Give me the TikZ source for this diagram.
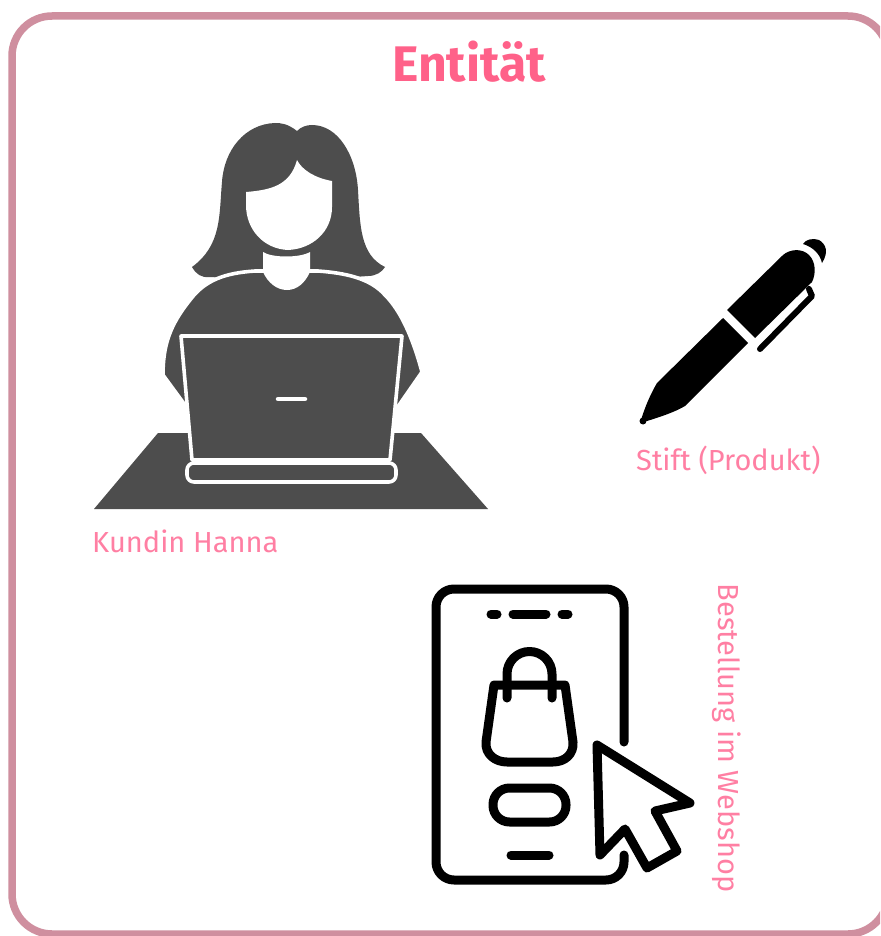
\documentclass[tikz,border=0pt]{standalone}
\usepackage{fontspec}
\setmainfont{Fira Sans}
\definecolor{framecol}{HTML}{CF8F9F}
\definecolor{pinktxt}{HTML}{FF7FA3}
\definecolor{titlecol}{HTML}{FF6189}
\definecolor{figgrey}{HTML}{4D4D4D}
\tikzset{
  labeltxt/.style={text=pinktxt,font=\fontsize{29}{34}\selectfont,inner sep=0pt},
  greyfill/.style={fill=figgrey,draw=none},
  whiteedge/.style={draw=white,line width=3.6pt,line join=round},
  icon/.style={draw=black,line width=9pt,line cap=round,line join=round},
  iconfill/.style={fill=black,draw=none}
}
\begin{document}
\begin{tikzpicture}[x=1pt,y=-1pt]
\useasboundingbox (0,0) rectangle (880,936);
\fill[white] (0,0) rectangle (880,936);
\begin{scope}
\clip (0,0) rectangle (880,936);
\draw[framecol,line width=7.5pt,rounded corners=40pt] (12,16) rectangle (888,934);
\end{scope}
\node[text=titlecol,font=\bfseries\fontsize{50}{58}\selectfont,inner sep=0pt] (title) at (469,62) {Entität};
% table
\path[greyfill] (158,433) -- (421,433) -- (488,509) -- (94,509) -- cycle;
% hair
\path[greyfill] (297,131) .. controls (288,124) and (282,123) .. (275,123)
  .. controls (245,124) and (224,150) .. (222,182)
  .. controls (219,215) and (222,245) .. (192,267)
  .. controls (196,274) and (201,278) .. (210,277)
  -- (262,280) -- (312,280) -- (368,276)
  .. controls (376,276) and (382,272) .. (385,267)
  .. controls (360,255) and (360,225) .. (358,190)
  .. controls (356,155) and (338,125) .. (312,125)
  .. controls (306,125) and (301,127) .. (297,131) -- cycle;
% face
\fill[white] (246,192) .. controls (270,190) and (290,186) .. (297,160)
  .. controls (302,170) and (315,178) .. (332,181)
  -- (332,207) .. controls (332,232) and (312,249) .. (288,250)
  .. controls (264,249) and (246,230) .. (246,205) -- cycle;
% body
\path[greyfill,draw=white,line width=3.6pt] (255,271) .. controls (225,273) and (205,280) .. (190,300)
  .. controls (170,325) and (163,345) .. (163,375)
  -- (185,405) -- (397,408) -- (422,372)
  .. controls (412,335) and (400,310) .. (385,295)
  .. controls (370,278) and (345,273) .. (318,271) -- cycle;
% cover the edge at the bottom of the body
\path[draw=white,line width=6pt] (184,408) -- (400,411);
% neck
\fill[white] (263,252) .. controls (272,258) and (300,258) .. (310,252)
  -- (310,272) .. controls (305,283) and (297,290) .. (287,290)
  .. controls (277,290) and (268,283) .. (263,272) -- cycle;
% laptop
\path[greyfill,whiteedge,fill=figgrey] (181,336) -- (402,336) -- (390,460) -- (192,460) -- cycle;
\draw[whiteedge,fill=figgrey,rounded corners=7pt] (187,463) rectangle (396,482);
\draw[white,line width=4.5pt,line cap=round] (278,399) -- (305,399);
% pen
\path[iconfill] (803,244) .. controls (806,239) and (813,238) .. (819,240)
  .. controls (826,244) and (829,252) .. (822,263)
  .. controls (820,254) and (813,247) .. (803,244) -- cycle;
\path[iconfill] (727,310) -- (783,255) .. controls (790,249) and (802,248) .. (809,255)
  .. controls (816,262) and (816,274) .. (812,282)
  -- (755,338) -- cycle;
\path[iconfill] (723,318) -- (748,343) -- (685,406)
  .. controls (675,412) and (660,417) .. (647,421)
  -- (641,420) .. controls (645,407) and (650,395) .. (657,383) -- cycle;
\fill (643,421) circle[radius=3.5pt];
\draw[black,line width=6pt,line cap=round,line join=round] (809,289) -- (812,296) -- (760,349);
% phone
\draw[icon,rounded corners=18pt] (624,742) -- (624,589) -- (436,589) -- (436,880) -- (624,880) -- (624,855);
\draw[icon] (491,614) -- (497,614);
\draw[icon] (513,614) -- (546,614);
\draw[icon] (562,614) -- (568,614);
\draw[icon] (507,698) -- (507,674) arc[start angle=180,end angle=0,radius=22.5pt] -- (552,698);
\draw[icon] (494,685) -- (565,685) -- (573,742)
  .. controls (574,754) and (565,762) .. (553,762) -- (507,762)
  .. controls (495,762) and (485,754) .. (486,742) -- cycle;
\draw[icon,rounded corners=16.5pt] (493,788) rectangle (566,822);
\draw[icon] (511,855) -- (549,855);
\draw[icon] (597,745) -- (690,803) -- (655,811) -- (677,851) -- (647,868) -- (625,829) -- (600,855) -- cycle;
% labels
\node[labeltxt,anchor=west] (kundin) at (92,541) {Kundin Hanna};
\node[labeltxt,anchor=west] (stift) at (636,460) {Stift (Produkt)};
\node[labeltxt,rotate=-90] (bestellung) at (727,738) {Bestellung im Webshop};
\end{tikzpicture}
\end{document}
